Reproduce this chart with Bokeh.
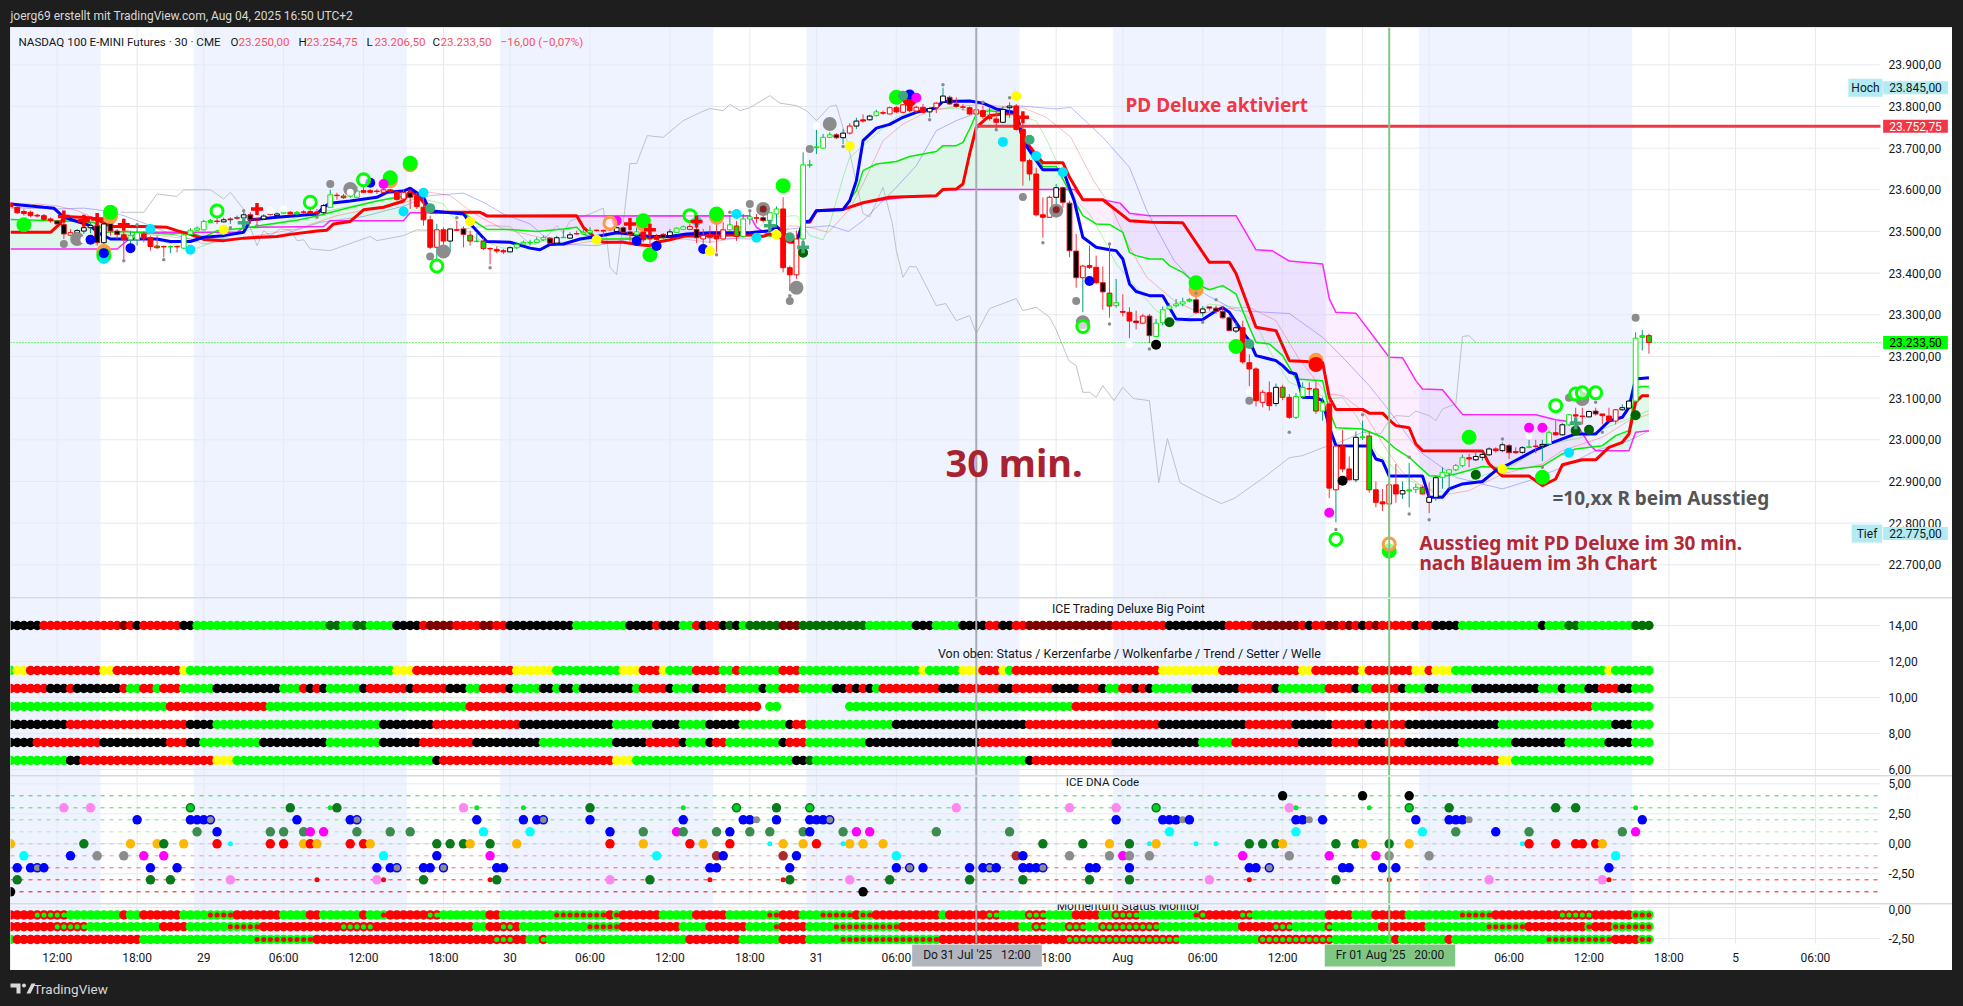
from bokeh.plotting import figure
from bokeh.layouts import column, row
from bokeh.models import Label, Range1d, FixedTicker, Spacer, ColumnDataSource
from bokeh.core.properties import value
from bokeh.embed import file_html
from bokeh.resources import INLINE
import numpy as np

# ---------- candles (30 min bars, first bar index -7) ----------
body_top = [23568,23558,23548,23546,23539,23538,23530,23525,23517,23497,
23502,23509,23514,23514,23518,23522,23501,23492,23490,23497,
23494,23485,23465,23464,23464,23464,23492,23503,23508,23524,
23526,23525,23528,23530,23533,23540,23540,23530,23537,23542,
23542,23546,23546,23546,23547,23548,23547,23562,23588,23587,
23585,23586,23597,23598,23598,23597,23600,23600,23595,23594,
23593,23586,23558,23528,23504,23504,23506,23504,23506,23491,
23477,23477,23459,23457,23454,23461,23469,23474,23474,23480,
23485,23484,23485,23486,23492,23495,23498,23502,23503,23502,
23505,23509,23509,23499,23499,23499,23483,23488,23493,23499,
23508,23511,23512,23505,23490,23492,23488,23504,23516,23513,
23530,23535,23533,23533,23545,23554,23554,23413,23482,23660,
23660,23703,23726,23732,23732,23736,23753,23765,23768,23777,
23787,23785,23797,23797,23804,23802,23798,23798,23795,23808,
23825,23822,23806,23799,23797,23792,23790,23774,23770,23793,
23801,23801,23745,23670,23638,23540,23582,23605,23605,23568,
23453,23417,23418,23414,23377,23352,23329,23308,23306,23285,
23297,23297,23280,23312,23321,23326,23331,23337,23336,23314,
23319,23316,23308,23293,23269,23269,23185,23170,23114,23113,
23126,23126,23102,23104,23126,23123,23122,23089,23086,22985,
22985,22930,23006,23007,23009,22880,22851,22892,22892,22878,
22880,22886,22886,22862,22909,22922,22928,22938,22957,22957,
22960,22965,22978,22978,22988,22986,22972,22981,22983,22985,
22989,23017,23017,23036,23060,23060,23057,23068,23069,23062,
23057,23072,23077,23093,23244,23250,23250]
body_bot = [23560,23545,23543,23538,23537,23529,23526,23518,23494,23491,
23496,23501,23509,23473,23473,23501,23493,23480,23480,23480,
23484,23464,23461,23463,23463,23463,23460,23493,23503,23504,
23522,23524,23523,23528,23532,23533,23528,23527,23530,23541,
23538,23544,23542,23542,23546,23544,23544,23545,23558,23586,
23581,23585,23582,23594,23594,23596,23594,23596,23577,23578,
23582,23560,23528,23462,23462,23477,23477,23503,23493,23477,
23476,23459,23458,23453,23451,23451,23461,23470,23473,23474,
23480,23472,23472,23485,23484,23494,23494,23497,23502,23501,
23504,23500,23498,23493,23492,23480,23482,23481,23485,23490,
23498,23505,23505,23485,23482,23486,23482,23482,23504,23488,
23488,23530,23532,23526,23525,23542,23413,23396,23396,23482,
23659,23701,23700,23726,23725,23725,23736,23753,23765,23768,
23778,23784,23782,23787,23786,23790,23789,23786,23787,23797,
23811,23806,23800,23798,23782,23782,23776,23771,23762,23762,
23797,23745,23669,23638,23540,23534,23534,23582,23570,23454,
23389,23389,23414,23377,23355,23321,23322,23306,23285,23281,
23280,23250,23248,23281,23314,23322,23326,23333,23305,23305,
23316,23308,23293,23262,23261,23187,23170,23094,23090,23082,
23087,23102,23054,23054,23104,23122,23069,23069,22884,22880,
22930,22904,22904,23005,22880,22850,22846,22846,22870,22870,
22877,22881,22870,22850,22862,22910,22920,22928,22938,22954,
22952,22958,22964,22974,22974,22969,22969,22970,22982,22984,
22985,22990,23012,23012,23036,23057,23056,23055,23062,23058,
23046,23045,23072,23076,23093,23246,23233.5]
bar_high = [23570,23562,23553,23550,23542,23542,23534,23528,23538,23506,
23506,23518,23522,23526,23538,23534,23506,23502,23500,23518,
23500,23490,23490,23466,23466,23466,23494,23508,23512,23528,
23530,23533,23533,23534,23538,23552,23546,23533,23541,23548,
23546,23560,23549,23549,23551,23554,23554,23566,23600,23593,
23590,23592,23608,23606,23602,23602,23602,23602,23598,23602,
23601,23593,23581,23538,23518,23510,23506,23526,23512,23502,
23498,23485,23462,23464,23458,23464,23474,23478,23480,23486,
23490,23486,23490,23504,23498,23502,23506,23510,23505,23505,
23510,23512,23512,23509,23509,23514,23494,23494,23496,23506,
23510,23514,23518,23530,23506,23514,23520,23522,23538,23525,
23542,23550,23542,23544,23546,23560,23582,23418,23502,23690,
23672,23744,23734,23738,23736,23746,23760,23773,23781,23780,
23792,23790,23800,23801,23806,23814,23802,23806,23798,23810,
23845,23826,23822,23806,23800,23802,23802,23798,23790,23800,
23810,23806,23782,23674,23653,23582,23586,23614,23608,23574,
23494,23420,23466,23442,23416,23472,23386,23349,23318,23310,
23302,23302,23290,23320,23328,23338,23341,23340,23344,23321,
23319,23322,23320,23297,23282,23286,23205,23174,23120,23140,
23135,23132,23110,23112,23138,23138,23142,23102,23098,22986,
23024,22960,23020,23046,23021,22900,22882,22898,22942,22900,
22945,22894,22890,22898,22914,22934,22930,22942,22964,22966,
22974,22970,22982,22982,22994,22990,22982,22985,23000,23000,
23000,23022,23046,23040,23062,23077,23077,23070,23077,23062,
23077,23074,23085,23096,23258,23264,23254.75]
bar_low = [23558,23542,23538,23534,23534,23524,23521,23517,23482,23490,
23494,23494,23496,23466,23470,23490,23482,23434,23470,23466,
23474,23454,23458,23438,23448,23450,23458,23490,23501,23502,
23521,23518,23522,23518,23528,23530,23518,23517,23528,23538,
23536,23542,23540,23540,23542,23542,23533,23542,23557,23576,
23578,23581,23581,23593,23593,23590,23593,23593,23574,23576,
23554,23554,23514,23458,23434,23464,23450,23501,23462,23466,
23474,23456,23421,23448,23446,23450,23458,23469,23466,23472,
23477,23469,23469,23485,23482,23493,23493,23490,23500,23486,
23501,23498,23496,23474,23488,23474,23456,23478,23482,23488,
23497,23504,23504,23472,23470,23472,23450,23480,23502,23477,
23486,23517,23520,23522,23504,23510,23402,23357,23386,23470,
23653,23686,23698,23725,23722,23710,23733,23746,23761,23766,
23776,23780,23781,23784,23784,23786,23785,23784,23774,23784,
23808,23804,23797,23790,23780,23768,23770,23766,23742,23760,
23773,23742,23610,23622,23536,23485,23533,23542,23557,23438,
23365,23306,23410,23374,23312,23293,23317,23296,23244,23265,
23277,23232,23246,23274,23312,23318,23320,23330,23302,23296,
23310,23302,23290,23261,23256,23182,23129,23080,23078,23070,
23080,23095,23050,23050,23101,23106,23062,23046,22860,22802,
22922,22902,22898,23000,22873,22838,22829,22775,22849,22858,
22838,22872,22869,22824,22854,22883,22882,22925,22934,22934,
22949,22950,22961,22969,22970,22954,22966,22966,22980,22968,
22949,22989,23010,23010,23033,23033,23037,23054,23058,23037,
23044,23037,23070,23074,23090,23214,23206.5]
bar_style = ("RRRRRRRKKr" "kkkKkKKRgg" "RRGRHRgggg" "HRkKKkKKkK" "kHRHRRRkgR" "GHgRRRrRRr"
             "KRRRrRkRKG" "HGRRRkggHg" "gKkHkKggRR" "KkKKgRRRKk" "ggrKrRRrgG" "ggRKggRRrg"
             "HHggKkrkRk" "gRrRrRrRkr" "kKKRRrRRRk" "kRRRRRrkKK" "KrRRKGgRRK" "rKgggggHKk"
             "KKKKkRRRrR" "kGRggRGgRr" "RRkHGRRrRk" "HgGkkggggR" "kkkRkKKkHK" "kgRkgRRkKR" "RrkkgHG")
teal_wick_extra = [26, 27, 32, 57, 154, 192]
red_wick_extra = [206]

# ---------- indicator lines (bar index, price) ----------
blue_line = [(-7,23566),(-4,23561),(-2,23558),(-0.5,23556),(1,23534),(3,23524),(5,23514),(6,23498),(8,23482),(15,23482),(17,23476),(20,23476),(22,23486),(25,23490),(28,23498),(29,23528),(33,23534),(39,23542),(40,23558),(41,23568),(44,23573),(48,23582),(49.5,23594),(52,23597),(53,23604),(55,23582),(56,23550),(61,23542),(62.5,23510),(64.5,23476),(68,23474),(71,23460),(72.5,23456),(74,23469),(76,23470),(78.5,23482),(81,23488),(84,23497),(86,23494),(89,23488),(92,23488),(94.5,23494),(98,23497),(104,23497),(107,23502),(108,23512),(109,23498),(110,23482),(111,23474),(112,23522),(113,23525),(114,23550),(118,23553),(119,23574),(120,23622),(121,23718),(123,23748),(125,23757),(127,23774),(129,23786),(132,23797),(133,23812),(137,23813),(139,23808),(141,23794),(144,23785),(145,23718),(147,23670),(148,23648),(151,23648),(152.7,23574),(154,23486),(156,23462),(158,23456),(159,23454),(160,23434),(161,23374),(162,23356),(164,23346),(166,23346),(168,23290),(170,23288),(172,23289),(174,23310),(175,23317),(176,23306),(178,23258),(179,23238),(180,23202),(181,23198),(183,23190),(184,23178),(185,23162),(186,23158),(187,23102),(189,23101),(190,23094),(191,23030),(192,22986),(197,22985),(198,22954),(199,22949),(200,22913),(205,22913),(206,22862),(208,22862),(209,22882),(211,22894),(214,22900),(216,22926),(218,22942),(222,22976),(224,22990),(228,23014),(231,23014),(233,23045),(235,23054),(236,23078),(237,23146),(239,23149)]
red_line = [(-7,23498),(-1,23498),(0.5,23520),(1,23536),(5,23533),(6,23529),(8,23512),(13,23512),(16.5,23510),(18,23502),(20,23493),(22,23481),(25,23478),(28,23484),(33,23488),(35,23493),(39,23501),(40.5,23503),(41.5,23518),(44,23524),(46,23552),(49,23558),(52,23573),(53,23598),(54,23589),(55,23570),(56,23546),(63.5,23546),(64.5,23537),(78,23538),(79,23510),(81,23482),(82,23474),(85,23474),(87,23469),(89,23466),(90,23474),(92,23480),(94.5,23490),(104,23492),(106,23488),(107,23494),(109,23482),(110,23474),(111,23474),(112,23522),(113,23522),(114,23550),(118,23553),(121,23569),(125,23582),(132,23586),(133,23601),(135,23602),(136,23614),(137,23686),(138,23750),(140,23778),(142,23782),(144,23785),(145,23726),(147,23684),(148,23665),(151,23665),(152,23630),(154,23576),(157,23576),(161,23526),(164.4,23522),(169,23521),(173,23426),(176,23426),(177,23399),(180,23270),(183,23262),(185,23190),(190,23186),(191,23102),(192,23073),(196,23073),(197,23064),(199,23064),(200,23048),(201,23034),(203,23029),(204,22990),(205,22974),(214,22973),(215,22942),(217,22913),(221,22913),(223,22890),(225,22906),(226,22940),(229,22952),(231,22952),(233,22982),(235,22994),(236,23014),(237,23090),(238,23106),(239,23106)]
green_line = [(-7,23529),(0,23526),(3,23524),(5.5,23522),(7.5,23498),(10,23500),(13.5,23496),(17,23494),(20,23497),(22,23486),(24,23502),(28,23508),(32,23518),(36,23527),(39,23537),(43,23554),(48,23573),(51,23582),(54,23590),(55,23570),(56,23546),(61,23546),(62.5,23526),(64.5,23505),(68,23505),(72,23500),(76,23506),(78,23510),(79,23494),(81,23482),(87,23482),(92,23486),(94.5,23490),(104,23492),(106,23489),(109,23490),(110,23474),(111,23474),(112,23522),(113,23525),(114,23550),(118,23553),(120,23598),(121,23646),(123,23662),(126,23668),(128,23680),(132,23692),(133,23706),(135,23706),(136,23714),(137,23746),(138,23782),(140,23790),(142,23786),(144,23782),(145,23726),(147,23680),(148,23656),(150,23656),(152.7,23574),(154,23538),(156,23518),(158,23517),(160,23498),(161,23450),(162,23442),(164,23434),(166,23434),(167,23418),(169,23402),(171,23374),(173,23360),(175,23370),(177,23350),(179,23270),(180,23234),(182,23230),(184,23202),(186,23146),(190,23142),(191,23070),(192,23029),(196,23026),(199,23006),(201,22978),(203,22958),(206,22914),(208,22912),(210,22918),(214,22936),(219,22930),(223,22937),(226,22966),(228,22978),(232,22986),(234,23010),(236,23022),(237,23125),(238,23128),(239,23128)]
magenta_line = [(-7,23458),(9,23458),(12,23498),(27,23498),(28,23510),(40,23512),(41,23526),(52,23526),(53,23545),(64,23545),(64.7,23537),(104,23538),(105,23510),(107,23490),(109.5,23482),(111,23474),(112,23522),(113,23522),(114,23550),(118,23553),(121,23569),(127,23582),(132,23586),(133,23601),(152.7,23601),(154,23576),(157,23576),(159.6,23568),(161,23544),(164,23538),(177,23538),(180,23456),(182.4,23454),(185,23429),(190,23422),(191,23339),(192,23306),(195,23304),(200,23198),(202,23197),(204,23142),(205,23122),(208,23120),(211,23061),(222,23060),(225,23048),(228,23042),(230,22990),(231,22974),(236,22974),(237,23018),(239,23022)]
pale_blue_line = [(-7,23557),(0,23554),(4,23556),(7,23550),(10,23538),(14,23514),(17,23494),(20,23482),(25,23482),(28,23484),(32,23484),(34,23493),(39.5,23522),(46,23536),(52,23561),(56,23586),(61,23592),(64,23570),(67,23542),(71,23518),(73,23490),(76,23469),(81,23466),(87,23486),(93,23486),(104,23482),(110,23506),(116,23514),(118.8,23500),(121,23526),(126,23606),(129,23658),(132,23742),(135,23766),(139,23790),(144,23802),(150,23794),(152.2,23798),(157,23726),(161,23654),(163.6,23550),(167.7,23430),(172.3,23350),(177,23310),(185,23303),(190,23246),(193,23198),(197,23130),(200,23070),(204.4,22974),(210,22910),(217,22882),(221,22902),(226,22934),(231,22974),(236,22998),(239,23021)]
pale_red_line = [(-7,23555),(-3,23566),(0,23561),(3,23550),(7,23522),(10,23504),(14,23492),(20,23482),(22,23470),(25,23477),(30,23490),(33,23498),(36,23506),(42,23538),(47,23554),(52,23568),(56,23594),(59,23586),(62,23550),(64,23530),(67,23506),(72,23488),(76,23466),(81,23478),(86,23486),(92,23486),(98,23474),(104,23489),(109,23494),(110,23514),(113,23510),(115.8,23498),(119,23554),(121,23614),(124,23718),(127,23758),(131,23790),(135,23800),(139,23805),(142,23800),(145,23797),(148.5,23774),(152.2,23726),(155.6,23622),(158.3,23558),(161,23462),(163.6,23390),(167.7,23334),(171.7,23303),(175.7,23315),(179,23318),(183,23286),(186.3,23198),(190.5,23111),(193,23106),(196,23070),(199.7,22974),(202,22922),(204.5,22894),(207.5,22866),(212,22878),(217,22918),(223,22942),(226,22974),(232,23006),(236,23046),(239,23061)]
pale_green_line = [(-7,23565),(-4,23566),(-1,23554),(3,23530),(6,23518),(9,23498),(14,23482),(18.5,23466),(21,23460),(24,23478),(28,23502),(32,23514),(37,23538),(42,23554),(47,23570),(51,23582),(54,23586),(55.5,23576),(58,23566),(60,23522),(63,23482),(67,23460),(69,23460),(72,23478),(76,23474),(81,23482),(87,23482),(94,23490),(104,23490),(107,23534),(111,23538),(113,23490),(115,23480),(116,23518),(118,23630),(119,23678),(123,23734),(126,23774),(129,23790),(135,23796),(139,23782),(144,23778),(147,23766),(148.5,23722),(150.5,23654),(153,23574),(155,23542),(157,23486),(159,23422),(162,23366),(165,23310),(168,23282),(170,23294),(173,23326),(177,23318),(180,23278),(182,23214),(185,23138),(188,23120),(191,23098),(193,23102),(195.2,23054),(198,22970),(200,22942),(203,22902),(206,22882),(208.7,22872),(210,22886),(214,22914),(219,22942),(223,22986),(229,23006),(234,23038),(239,23070)]
gray_line = [(9.5,23546),(13,23546),(15,23590),(18,23584),(19,23600),(23,23600),(25,23578),(26,23594),(28,23553),(30,23466),(31,23502),(32,23490),(33.5,23506),(35,23504),(36,23478),(37,23480),(38,23458),(41,23454),(47,23488),(48,23478),(52,23490),(54,23504),(58,23501),(63,23510),(65,23514),(68,23512),(71,23470),(72,23470),(73,23480),(75,23514),(76,23496),(77,23525),(80,23542),(82,23556),(83,23414),(84,23396),(85,23520),(86,23663),(87,23663),(88.6,23730),(91,23726),(94,23766),(96.6,23786),(98,23795),(100,23790),(101,23805),(102.5,23790),(104,23797),(107,23826),(108.5,23808),(111,23802),(112.5,23790),(114,23766),(116,23800),(117,23803),(118.7,23711),(121,23543),(122,23535),(124,23606),(125.4,23519),(126,23454),(127,23390),(128,23416),(129,23415),(132,23322),(133.4,23327),(135,23286),(137,23298),(138,23255),(140,23315),(144,23339),(145,23310),(147,23318),(149,23294),(150,23264),(151.9,23190),(153,23178),(154,23114),(155,23114),(156,23102),(157,23130),(158.7,23094),(160,23126),(161.6,23099),(164,23094),(165.4,22897),(166.7,23003),(168.6,22897),(172,22868),(174.8,22847),(176.7,22859),(181.4,22912),(185,22957),(187,22962),(190,22981),(192,22990),(196,23018),(198.7,23014),(200,23046),(201,23058),(203,23056),(204,23069),(206,23058),(207,23046),(208,23074),(210,23086),(211,23248),(212,23250),(213,23234)]
marked_level = 23752.75
level_start = 138
last_close = 23233.5

# ---------- chart signals (bar index, price) ----------
orange_dots = [(8,23536),(7,23452),(50,23622),(53,23660),(88,23518),(99,23534),(171,23360),(189,23191)]
lime_dots = [(-5,23516),(8,23546),(7,23442),(53,23664),(50,23629),(88,23526),(89,23444),(99,23542),(109,23610),(126,23822),(171,23377),(177,23224),(200,22733),(212,23006),(223,22910)]
red_dots = [(128,23818),(189,23181)]
cyan_dots = [(7,23434),(14,23506),(20,23456),(52,23548),(55,23593),(102,23542),(105,23485),(142,23715),(147,23681),(151,23642),(227,22969),(96,23526)]
blue_dots = [(5,23480),(7,23448),(11,23460),(47,23617),(87,23477),(90,23465),(97,23458),(128,23829),(155,23381)]
magenta_dots = [(49,23614),(84,23526),(129,23821),(191,22825),(221,23029),(223,23029)]
yellow_dots = [(25,23504),(62,23524),(81,23480),(98,23453),(108,23492),(119,23705),(144,23825),(217,22930)]
seagreen_dots = [(56,23556),(110,23486),(127,23826),(146,23720),(179,23230)]
darkgreen_dots = [(112,23449),(167,23282),(213,22916),(228,23022),(230,23024),(237,23059)]
black_dots = [(165,23228),(193,22902)]
gray_big = [(3,23482),(44,23602),(58,23452),(106,23554),(111,23365),(116,23758),(150,23550),(154,23282),(229,23098)]
gray_mid = [(1,23470),(41,23614),(56,23440),(104,23566),(110,23333),(113,23698),(145,23583),(153,23333),(179,23094),(227,23101),(237,23293)]
white_dots = [(4,23480),(32,23550),(34,23554),(44,23594),(114,23753),(161,23229),(179,23116),(221,23010)]
darkred_dots = [(106,23554),(150,23552)]
gray_small = [(10,23430),(16,23432),(12,23516),(28,23550),(26,23509),(30,23514),(39,23534),(60,23533),(65,23413),(101,23546),(99,23444),(110,23346),(104,23550),(133,23852),(131,23768),(141,23744),(143,23821),(148,23473),(118,23704),(139,23810),(158,23470),(158,23278),(164,23218),(172,23282),(174,23336),(171,23352),(192,22785),(196,23060),(203,22958),(203,22822),(206,22808),(185,23018),(217,23002),(223,22934),(231,23090),(232,23018)]
red_crosses = [(1,23536),(4,23526),(6,23530),(10,23516),(30,23554),(86,23518),(89,23504),(96,23524),(145,23774)]
green_crosses = [(28,23521),(107,23514),(112,23462),(228,23040)]
lime_rings = [(24,23549),(38,23570),(46,23624),(57,23417),(95,23538),(154,23272),(192,22761),(225,23082),(228,23110),(229,23113),(231,23113)]
orange_rings = [(83,23520),(200,22750)]

# ---------- dot rows: "colour:last bar" runs ----------
row_bigpoint = "k:-3 r:9 d:10 r:11 k:12 r:18 k:20 g:40 D:42 g:44 D:46 g:50 k:54 r:55 d:59 r:63 d:65 r:67 k:77 g:85 k:89 r:90 k:93 g:95 r:96 k:97 r:99 k:100 D:101 k:102 g:103 D:108 d:111 D:121 g:128 k:131 g:135 k:139 r:141 k:143 r:145 d:158 r:166 k:175 r:179 d:186 r:187 k:188 r:190 d:192 r:193 d:194 r:195 k:196 r:197 d:198 r:203 k:204 r:206 k:210 g:222 k:223 g:226 D:228 g:236 D:239"
row_status = "g:-7 y:-5 r:6 y:8 r:18 y:19 g:50 y:53 r:68 y:74 g:84 y:87 r:90 y:91 g:95 r:99 g:101 r:102 g:108 r:111 g:129 y:130 g:135 y:138 r:141 y:142 g:143 r:165 y:174 r:186 y:188 r:195 y:196 r:203 y:205 r:206 y:209 g:232 y:233 g:239"
row_candle = "r:-2 k:1 r:2 k:9 r:10 g:12 r:14 g:15 r:18 g:23 k:33 g:36 r:37 k:38 r:39 k:40 g:45 k:46 r:52 k:53 r:58 k:61 g:63 r:67 k:68 g:72 k:74 g:75 k:77 g:78 k:86 g:87 r:91 k:92 g:95 k:96 r:100 g:105 k:106 g:108 r:111 g:116 k:118 r:119 k:120 r:121 k:122 g:123 r:132 k:135 r:141 k:143 r:149 k:153 r:156 k:157 g:159 r:161 k:162 r:163 k:164 g:170 k:177 r:182 k:183 g:190 r:194 k:195 g:197 r:201 k:202 g:205 k:207 g:212 k:222 g:225 k:226 g:229 k:231 r:234 k:236 g:239"
row_cloud = "g:16 r:31 g:61 r:105 -:106 g:108 -:118 g:152 r:230 g:239"
row_trend = "k:1 r:19 k:23 g:48 k:56 r:69 k:83 g:89 k:93 g:97 k:102 g:109 k:110 r:112 g:125 k:145 r:165 k:178 r:185 k:191 r:196 k:197 r:202 k:216 g:233 k:236 g:239"
row_setter = "k:-4 r:6 k:16 r:19 k:21 g:30 k:40 g:48 k:54 r:62 k:72 g:83 k:88 r:93 k:94 g:97 k:98 r:100 g:108 k:109 r:112 g:121 k:138 r:158 k:171 g:176 r:186 k:191 r:195 k:199 r:202 k:210 g:218 k:226 g:232 k:236 g:239"
row_welle = "g:1 k:3 r:23 y:26 g:56 k:57 r:83 y:86 g:110 k:112 D:113 g:145 k:146 r:216 y:218 g:239"
status_values = [14, 11.5, 10.5, 9.5, 8.5, 7.5, 6.5]
mom_1 = "r:-4 O:1 g:9 r:10 g:12 r:18 g:22 P:26 r:33 g:37 r:39 g:45 r:46 g:48 P:49 r:55 O:57 g:64 r:66 g:74 P:82 r:83 P:84 r:90 g:95 r:100 g:106 P:108 r:111 g:114 P:119 r:120 P:122 r:132 g:133 r:139 O:141 g:145 O:148 g:152 r:156 g:158 O:162 g:170 P:171 O:172 r:177 O:179 g:190 r:194 g:197 r:202 g:210 P:215 r:225 O:230 r:236 P:239"
mom_2 = "r:-1 O:4 g:15 r:19 g:25 P:30 r:42 O:47 r:62 g:64 r:66 O:68 r:69 g:79 P:84 r:93 g:97 r:103 g:107 P:108 r:112 g:116 P:126 r:144 g:146 O:148 g:151 O:154 g:156 O:165 g:177 r:182 O:185 g:190 O:191 g:198 r:205 g:214 P:220 r:229 P:230 r:233 P:239"
mom_3 = "g:-7 r:12 g:29 P:38 r:65 O:68 r:70 g:72 O:73 g:94 r:102 g:108 r:112 g:117 P:132 r:151 O:168 g:180 O:191 g:200 r:201 g:208 r:209 g:223 P:233 r:237 P:239"
mom_values = [-0.6, -1.55, -2.58]

# ---------- DNA rows: level -> "code+bar" ----------
dna_rows = {
 4: "k184 k196 k203",
 3: "p1 p5 R20 D35 l41 D42 p61 l63 l70 D80 l94 R102 D108 R113 p135 p152 p159 R165 p185 l186 l197 R203 D209 D225 D228 l237",
 2: "b12 b20 b21 b22 a23 b36 b44 a45 b63 b70 b72 a73 b80 b94 b103 b104 A105 b108 b113 b114 b115 a116 b159 b166 b167 b168 A169 b170 b186 b187 A188 b190 b204 b209 b210 b211 A212 b238",
 1: "S21 b24 S32 S34 S37 m38 m40 S45 S50 S53 c64 c71 b83 S88 m93 S94 S99 b101 S104 S107 S112 b113 S118 m120 m122 S132 S143 c167 c186 c205 S210 b216 S221 S235 m237",
 0: "o-7 D4 o11 o15 D16 o19 r24 s26 r32 r34 o37 r38 o39 r44 r46 o47 D57 D59 D61 o62 D65 o69 r83 o88 r95 o97 r101 s107 o109 o112 r114 s118 o119 o121 o124 D148 D154 o158 D161 s164 o165 s171 s174 D179 D181 D183 o184 D192 D195 o196 D200 o203 s220 r221 r225 r228 r229 r231 o232",
 -1: "c-5 b2 A6 A10 m13 m16 c49 b57 m65 c90 B99 b100 B109 b111 c126 B144 b145 A152 A158 m160 A161 A164 m178 A185 m191 m198 A200 A206 c234",
 -2: "b-6 b-4 a-3 b-2 b14 b18 b48 b50 a51 b55 b56 a58 b66 b67 b98 b99 b110 b126 a128 b130 b137 b139 a140 b141 b145 b146 b147 a148 b155 b156 b161 b179 b180 a182 b193 b194 b199 b201 b233",
 -3: "D-6 D14 D17 p26 t39 p48 t49 D55 t65 D66 p83 D89 t98 t109 D110 p119 D125 D137 D145 D155 D161 p173 t179 D192 t200 p215 p232 t233",
 -4: "k-7 k121",
}
dna_levels = [4, 3, 2, 1, 0, -1, -2, -3, -4]
dna_line_colors = ["#22dd44", "#33e855", "#66ee77", "#a5f0ae", "#c4c6cc", "#ee9aa5", "#ff5a5a", "#ff2a2a", "#ff0000"]

# ---------- axes ----------
x_ticks = [0,12,22,34,46,58,68,80,92,104,114,126,138,150,160,172,184,196,206,218,230,242,252,264]
x_labels = ["12:00","18:00","29","06:00","12:00","18:00","30","06:00","12:00","18:00","31","06:00","12:00","18:00","Aug","06:00","12:00","18:00","4","06:00","12:00","18:00","5","06:00"]
price_ticks = [22700,22800,22900,23000,23100,23200,23300,23400,23500,23600,23700,23800,23900]
status_ticks = [6,8,10,12,14]
dna_ticks = [-2.5,0,2.5,5]
mom_ticks = [-2.5,0]
session_start = [-7,20.5,66.5,112.5,158.5,204.5]
session_end = [6.5,52.5,98.5,144.5,190.5,236.5]
crosshair_bars = [138, 200]

def de(v, dec=2):
    s = f"{v:,.{dec}f}"
    return s.replace(",", "#").replace(".", ",").replace("#", ".")

def ix(px):
    return (px - 56.7) / 6.66

def pr(py):
    return 23300 + (314.3 - py) * 2.4

FONT = "Roboto"
INK = "#131722"
PLOT_END = ix(1880)
X_RANGE = (ix(10), ix(1952))
W = 1942
GRID = "#e6e9f0"

def label(p, x, y, text, size=12, color=INK, style="normal", font=FONT, align="left", baseline="middle", **kw):
    p.add_layout(Label(x=x, y=y, text=text, text_font=font, text_font_size=f"{size}px", text_color=color,
                       text_font_style=style, text_align=align, text_baseline=baseline, **kw))

def make_pane(height, yr, plot_bottom, ticks, labels, with_x=False):
    p = figure(width=W, height=height, x_range=Range1d(*X_RANGE), y_range=Range1d(*yr),
               toolbar_location=None, output_backend="svg", y_axis_location="right",
               x_axis_location="below" if with_x else None)
    p.min_border = 0
    p.outline_line_color = None
    p.grid.visible = False
    p.yaxis.fixed_location = PLOT_END
    p.yaxis.ticker = FixedTicker(ticks=ticks)
    p.yaxis.major_label_overrides = dict(zip(ticks, labels))
    ax = [p.yaxis[0]]
    if with_x:
        p.xaxis.fixed_location = plot_bottom
        p.xaxis.ticker = FixedTicker(ticks=x_ticks)
        p.xaxis.major_label_overrides = dict(zip(x_ticks, x_labels))
        ax.append(p.xaxis[0])
    for a in ax:
        a.axis_line_color = None
        a.major_tick_line_color = None
        a.minor_tick_line_color = None
        a.major_tick_out = 0
        a.major_tick_in = 0
        a.major_label_text_font = FONT
        a.major_label_text_font_size = "12px"
        a.major_label_text_color = INK
        a.major_label_standoff = 8
    p.quad(left=session_start, right=session_end, bottom=plot_bottom, top=yr[1],
           fill_color="#2962ff", fill_alpha=0.08, line_color=None, level="underlay")
    p.segment(x0=x_ticks, x1=x_ticks, y0=[plot_bottom] * len(x_ticks), y1=[yr[1]] * len(x_ticks),
              line_color=GRID, line_width=1, level="underlay")
    p.segment(x0=[X_RANGE[0]] * len(ticks), x1=[PLOT_END] * len(ticks), y0=ticks, y1=ticks,
              line_color=GRID, line_width=1, level="underlay")
    return p

def add_crosshair(p, bottom, top):
    n = len(crosshair_bars)
    p.segment(x0=crosshair_bars, x1=crosshair_bars, y0=[bottom] * n, y1=[top] * n,
              line_color=["#a9abb2", "#7fc784"], line_width=2)

def xy(pairs):
    return [a for a, _ in pairs], [b for _, b in pairs]

def expand(runs):
    out, bar = [], -7
    for part in runs.split():
        code, last = part.split(":")
        for b in range(bar, int(last) + 1):
            out.append((b, code))
        bar = int(last) + 1
    return out

RUN_COL = {"g": "#00ff00", "r": "#ff0000", "k": "#000000", "y": "#ffff00", "d": "#800000", "D": "#007000", "O": "#ff0000", "P": "#00ff00"}

def draw_rows(p, rows, values, size):
    for runs, val in zip(rows, values):
        cells = [c for c in expand(runs) if c[1] != "-"]
        xs = [c[0] for c in cells]
        p.scatter(xs, [val] * len(xs), size=size, marker="circle", line_color=None, fill_color=[RUN_COL[c[1]] for c in cells])
        inner = [c for c in cells if c[1] in "OP"]
        if inner:
            p.scatter([c[0] for c in inner], [val] * len(inner), size=5, marker="circle", line_color=None,
                      fill_color=["#00ff00" if c[1] == "O" else "#ff0000" for c in inner])

# ---------- main price pane ----------
main_range = (pr(597), pr(27))
p1 = make_pane(570, main_range, main_range[0], price_ticks, [de(t) for t in price_ticks])

grid_bars = np.arange(-7, 240)
gx, gy = xy(green_line)
mx, my = xy(magenta_line)
g_on = np.interp(grid_bars, gx, gy)
m_on = np.interp(grid_bars, mx, my)
for cond, col, alpha in ((g_on >= m_on, "#d8f5e3", 0.75), (g_on < m_on, "#d500f9", 0.07)):
    idx = np.where(cond)[0]
    if len(idx):
        for seg in np.split(idx, np.where(np.diff(idx) > 1)[0] + 1):
            seg2 = np.arange(max(seg[0] - 1, 0), seg[-1] + 1)
            p1.varea(grid_bars[seg2], g_on[seg2], m_on[seg2], fill_color=col, fill_alpha=alpha)

for pairs, col, lw, al in ((gray_line, "#b9bbc0", 1, 0.9), (pale_blue_line, "#5050ff", 1, 0.4),
                           (pale_red_line, "#ff2020", 1, 0.3), (pale_green_line, "#20e020", 1, 0.35),
                           (magenta_line, "#ff00ff", 1.5, 0.85), (green_line, "#00ee00", 1.5, 1.0)):
    a, b = xy(pairs)
    p1.line(a, b, line_color=col, line_width=lw, line_alpha=al)
a, b = xy(red_line)
p1.line(a, b, line_color="#ff0000", line_width=3)
a, b = xy(blue_line)
p1.line(a, b, line_color="#0000ff", line_width=3)
p1.line([level_start, PLOT_END], [marked_level, marked_level], line_color="#f23645", line_width=3)
p1.line([X_RANGE[0], PLOT_END], [last_close, last_close], line_color="#00ee00", line_width=1, line_dash="1 2")

n = len(body_top)
bars = list(range(-7, -7 + n))
fills = {"R": "#ff0000", "r": "#ffffff", "K": "#000000", "k": "#ffffff", "G": "#00dd00", "g": "#ffffff", "H": "#00ff00"}
edges = {"R": "#ff0000", "r": "#ff0000", "K": "#e01020", "k": "#000000", "G": "#ff0000", "g": "#00ee00", "H": "#00ee00"}
rising = [(bar_style[k] in "gkH" and bars[k] not in red_wick_extra) or bars[k] in teal_wick_extra for k in range(n)]
candles = ColumnDataSource(dict(
    x=bars, top=body_top, bottom=body_bot, high=bar_high, low=bar_low,
    open=[body_bot[k] if rising[k] else body_top[k] for k in range(n)],
    close=[body_top[k] if rising[k] else body_bot[k] for k in range(n)],
    wick=["#089981" if r else "#f23645" for r in rising],
    fill=[fills[s] for s in bar_style], edge=[edges[s] for s in bar_style]))
p1.segment("x", "high", "x", "low", source=candles, line_color="wick", line_width=1)
p1.vbar(x="x", width=0.72, top="top", bottom="bottom", source=candles, fill_color="fill", line_color="edge", line_width=1)

def dots(pairs, col, size, line=None):
    a, b = xy(pairs)
    p1.scatter(a, b, marker="circle", size=size, fill_color=col, line_color=line)

dots(orange_dots, "#ff9a40", 15)
dots(lime_dots, "#00ff00", 15)
dots(red_dots, "#ff0000", 15)
dots(gray_big, "#8c8c8c", 14)
dots(gray_mid, "#8c8c8c", 8)
dots(darkred_dots, "#8b2020", 7)
dots(white_dots, "#ffffff", 7)
dots(cyan_dots, "#00e5ff", 10)
dots(blue_dots, "#0000ff", 10)
dots(magenta_dots, "#ff00ff", 10)
dots(yellow_dots, "#ffff00", 10)
dots(seagreen_dots, "#3cab77", 10)
dots(darkgreen_dots, "#006400", 10)
dots(black_dots, "#000000", 10)
dots(gray_small, "#8c8c8c", 3.5)
a, b = xy(lime_rings)
p1.scatter(a, b, marker="circle", size=12, fill_color="#ffffff", fill_alpha=0.6, line_color="#00ff00", line_width=3)
a, b = xy(orange_rings)
p1.scatter(a, b, marker="circle", size=12, fill_color="#ffffff", fill_alpha=0.6, line_color="#ff9a40", line_width=3)
a, b = xy(red_crosses)
p1.scatter(a, b, marker="cross", size=12, line_color="#ff0000", line_width=3.5)
a, b = xy(green_crosses)
p1.scatter(a, b, marker="cross", size=12, line_color="#3cab77", line_width=3.5)
add_crosshair(p1, *main_range)

# legend line
ly = pr(41.5)
label(p1, ix(18), ly, "NASDAQ 100 E-MINI Futures · 30 · CME", size=11.6)
red_txt = "#f7525f"
for px, key, val in ((230, "O", 23250.00), (298, "H", 23254.75), (366, "L", 23206.50), (432, "C", 23233.50)):
    label(p1, ix(px), ly, key, size=11.6)
    label(p1, ix(px + 8), ly, de(val), size=11.6, color=red_txt)
label(p1, ix(500), ly, "−16,00 (−0,07%)", size=11.6, color=red_txt)

# drawings
label(p1, ix(1125), pr(104), "PD Deluxe aktiviert", size=19, color="#f23645", style="bold", font="Noto Sans")
label(p1, ix(945), pr(461), "30 min.", size=38, color="#a8232f", style="bold", font="Noto Sans")
label(p1, ix(1552), pr(497), "=10,xx R beim Ausstieg", size=19, color="#555555", style="bold", font="Noto Sans")
label(p1, ix(1419), pr(542), "Ausstieg mit PD Deluxe im 30 min.", size=19, color="#b22833", style="bold", font="Noto Sans")
label(p1, ix(1419), pr(562), "nach Blauem im 3h Chart", size=19, color="#b22833", style="bold", font="Noto Sans")

# price tags
tx = ix(1915)
label(p1, tx, marked_level, de(marked_level), color="#ffffff", align="center", background_fill_color="#f23645", padding=(6, 2))
label(p1, tx, last_close, de(last_close), color="#000000", align="center", background_fill_color="#00ff00", padding=(6, 2))
label(p1, tx, 23845, de(23845), align="center", background_fill_color="#b2ebf2", padding=(6, 2))
label(p1, tx, 22775, de(22775), align="center", background_fill_color="#b2ebf2", padding=(6, 2))
label(p1, ix(1865), 23845, "Hoch", align="center", background_fill_color="#b2ebf2", padding=(3, 2))
label(p1, ix(1866.5), 22775, "Tief", align="center", background_fill_color="#b2ebf2", padding=(5, 2))

# ---------- status pane ----------
r2 = (5.667, 15.5)
p2 = make_pane(177, r2, r2[0], status_ticks, [de(t) for t in status_ticks])
draw_rows(p2, [row_bigpoint, row_status, row_candle, row_cloud, row_trend, row_setter, row_welle], status_values, 9.5)
add_crosshair(p2, *r2)
label(p2, ix(1128), 15.5 - 10 / 18, "ICE Trading Deluxe Big Point", size=12.2, align="center")
label(p2, ix(1129), 15.5 - 55 / 18, "Von oben: Status / Kerzenfarbe / Wolkenfarbe / Trend / Setter / Welle", size=12.5, align="center")

# ---------- DNA pane ----------
r3 = (-4.975, 5.61)
p3 = make_pane(127, r3, r3[0], dna_ticks, [de(t) for t in dna_ticks])
p3.segment(x0=[X_RANGE[0]] * len(dna_levels), x1=[PLOT_END] * len(dna_levels), y0=dna_levels, y1=dna_levels,
           line_color=dna_line_colors, line_width=1, line_dash="4 5", level="underlay")
DNA = {"p": ("#ff88ee", None, 9.5), "D": ("#0a7a1a", None, 9.5), "R": ("#00d020", "#0a7a1a", 8), "l": ("#10e030", None, 5),
       "b": ("#0000ff", None, 9.5), "a": ("#8c8c8c", "#0000ff", 8), "A": ("#8c8c8c", None, 7), "S": ("#3c8c50", None, 9.5),
       "m": ("#ff00ff", None, 9.5), "c": ("#00ffff", None, 9.5), "s": ("#00ffff", None, 5), "o": ("#ffb800", None, 9.5),
       "r": ("#ff0000", None, 9.5), "t": ("#ff0000", None, 5), "k": ("#000000", None, 9.5), "B": ("#aa2a30", None, 9.5)}
for lvl, spec in dna_rows.items():
    for tok in spec.split():
        c = DNA[tok[0]]
        size = 9.5 if tok[0] == "A" and lvl == -1 else c[2]
        p3.scatter([int(tok[1:])], [lvl], marker="circle", size=size, fill_color=c[0], line_color=c[1], line_width=1.5)
add_crosshair(p3, *r3)
label(p3, ix(1102), 5.61 - 6 / 12, "ICE DNA Code", size=11.6, align="center")

# ---------- momentum pane ----------
r4 = (0.24 - 66 / 12.4, 0.24)
plot4_bottom = -2.9
p4 = make_pane(66, r4, plot4_bottom, mom_ticks, [de(t) for t in mom_ticks], with_x=True)
draw_rows(p4, [mom_1, mom_2, mom_3], mom_values, 9.5)
add_crosshair(p4, plot4_bottom, r4[1])
p4.text(x=[ix(1128)], y=[0.24 - 1 / 12.4], text=["Momentum Status Monitor"], text_align="center", text_baseline="alphabetic",
        text_font=value(FONT), text_font_size="12px", text_color=INK)
tag_y = plot4_bottom - 12 / 12.4
label(p4, ix(976.5), tag_y, "Do 31 Jul '25\u00a0\u00a0\u00a012:00", align="center", background_fill_color="#b2b5be", padding=(11, 4))
label(p4, ix(1389.5), tag_y, "Fr 01 Aug '25\u00a0\u00a0\u00a020:00", align="center", background_fill_color="#81c784", padding=(11, 4))

# ---------- header and footer ----------
DARK = "#1e1e1e"
def strip(height):
    s = figure(width=1963, height=height, x_range=Range1d(0, 1963), y_range=Range1d(0, height),
               toolbar_location=None, output_backend="svg", x_axis_location=None, y_axis_location=None,
               background_fill_color=DARK, border_fill_color=DARK)
    s.min_border = 0
    s.outline_line_color = None
    s.grid.visible = False
    return s

head = strip(27)
label(head, 10, 12, "joerg69 erstellt mit TradingView.com, Aug 04, 2025 16:50 UTC+2", color="#d8d8d8")
foot = strip(36)
foot.patch([10, 20, 20, 16, 16, 10], [23, 23, 13, 13, 19, 19], fill_color="#d8d8d8", line_color=None)
foot.patch([26, 30, 35, 31], [13, 13, 23, 23], fill_color="#d8d8d8", line_color=None)
foot.scatter([23.5], [21], marker="circle", size=4, fill_color="#d8d8d8", line_color=None)
label(foot, 33, 18, "TradingView", size=13.5, color="#d8d8d8")

panes = column(p1, p2, p3, p4, spacing=1, styles={"background-color": "#d6d9e0"})
root = column(head, row(Spacer(width=10), panes), foot, spacing=0)

open("out.html", "w").write(file_html(root, INLINE).replace("<body>", '<body style="background:#1e1e1e;margin:0;overflow:hidden">'))
